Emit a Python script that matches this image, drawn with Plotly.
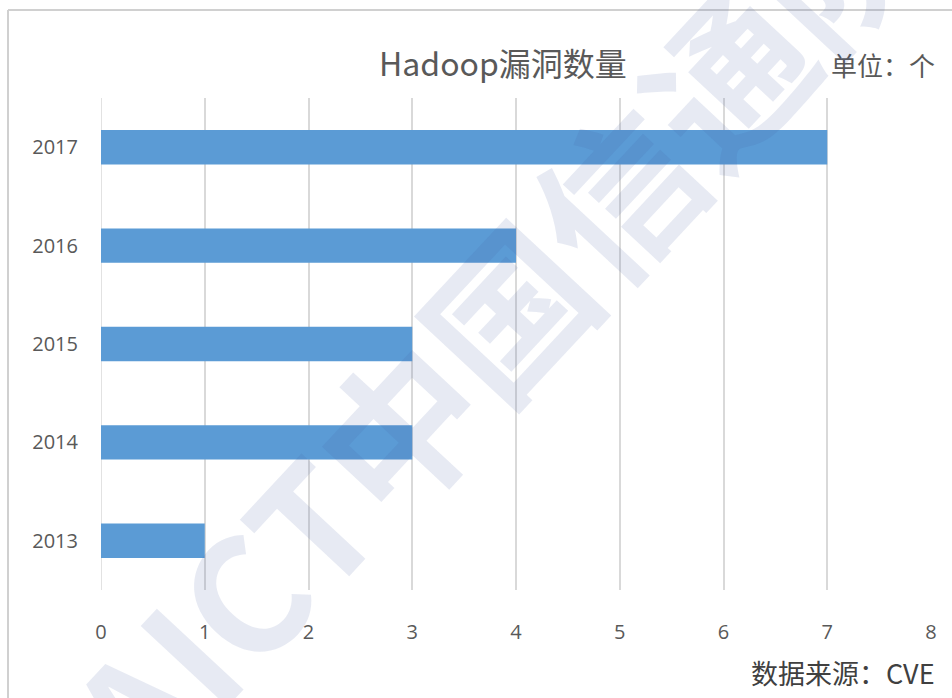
import plotly.graph_objects as go

years = ["2013", "2014", "2015", "2016", "2017"]
counts = [1, 3, 3, 4, 7]
x_ticks = [0, 1, 2, 3, 4, 5, 6, 7, 8]

title_text = "Hadoop漏洞数量"
unit_text = "单位：个"
source_text = "数据来源：CVE"
watermark_text = "CAICT中国信通院"

W, H = 952, 698
L, R, T, B = 101, 21, 98, 108
pw, ph = W - L - R, H - T - B

def px_x(px):
    return (px - L) / pw

def px_y(py):
    return (H - B - py) / ph

fig = go.Figure(go.Bar(
    y=years, x=counts, orientation="h",
    marker=dict(color="#5b9bd5", line=dict(width=0)),
))

grey = "#595959"
fig.update_layout(
    width=W, height=H,
    margin=dict(l=L, r=R, t=T, b=B),
    paper_bgcolor="white", plot_bgcolor="white",
    bargap=0.65,
    showlegend=False,
    font=dict(family="Liberation Sans, Noto Sans CJK SC", color=grey),
    xaxis=dict(
        range=[0, 8], tickvals=x_ticks, showgrid=True,
        gridcolor="#d9d9d9", gridwidth=1.5,
        zeroline=False, showline=False,
        tickfont=dict(size=20, color=grey, family="Open Sans, Liberation Sans"),
        ticks="", ticklabelstandoff=28,
    ),
    yaxis=dict(
        type="category", categoryorder="array", categoryarray=years,
        showgrid=False, zeroline=False, showline=False,
        tickfont=dict(size=20, color=grey, family="Open Sans, Liberation Sans"),
        ticks="", ticklabelstandoff=22,
    ),
)

# vertical line at x=0 (leftmost gridline)
fig.add_shape(type="line", xref="x", yref="paper", x0=0, x1=0, y0=0, y1=1,
              line=dict(color="#d9d9d9", width=1.5), layer="below")

# chart frame (top and left border)
fig.add_shape(type="line", xref="paper", yref="paper",
              x0=px_x(8), x1=px_x(960), y0=px_y(10), y1=px_y(10),
              line=dict(color="#d0d0d0", width=2))
fig.add_shape(type="line", xref="paper", yref="paper",
              x0=px_x(8), x1=px_x(8), y0=px_y(10), y1=px_y(710),
              line=dict(color="#d0d0d0", width=2))

cjk = "Noto Sans CJK SC"
fig.add_annotation(text=title_text, xref="paper", yref="paper",
                   x=px_x(503), y=px_y(62), showarrow=False,
                   font=dict(size=32, color=grey, family=cjk),
                   xanchor="center", yanchor="middle")
fig.add_annotation(text=unit_text, xref="paper", yref="paper",
                   x=px_x(937), y=px_y(64), showarrow=False,
                   font=dict(size=26, color=grey, family=cjk),
                   xanchor="right", yanchor="middle")
fig.add_annotation(text=source_text, xref="paper", yref="paper",
                   x=px_x(937), y=px_y(672), showarrow=False,
                   font=dict(size=27, color="#404040", family=cjk),
                   xanchor="right", yanchor="middle")

# watermark
fig.add_annotation(text="<b>" + watermark_text + "</b>", xref="paper", yref="paper",
                   x=px_x(455), y=px_y(360), showarrow=False, textangle=-47,
                   font=dict(size=160, color="rgba(70,90,160,0.13)", family=cjk),
                   xanchor="center", yanchor="middle")

fig.write_html("out.html")
